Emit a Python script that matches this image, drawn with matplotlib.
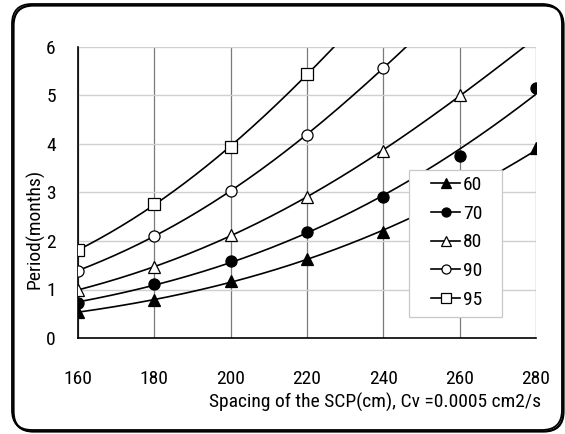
import numpy as np
import matplotlib
matplotlib.use("Agg")
import matplotlib.pyplot as plt
from matplotlib.patches import FancyBboxPatch, Rectangle

plt.rcParams['font.family'] = ['Roboto Condensed', 'Liberation Sans', 'DejaVu Sans']

spacing = [160, 180, 200, 220, 240, 260, 280]
s60 = [0.53, 0.79, 1.17, 1.63, 2.19, 2.95, 3.91]
s70 = [0.73, 1.11, 1.58, 2.18, 2.91, 3.76, 5.16]
s80 = [0.99, 1.47, 2.12, 2.91, 3.85, 5.01]
s90 = [1.39, 2.10, 3.04, 4.19, 5.57]
s95 = [1.81, 2.76, 3.94, 5.44]
labels = ['60', '70', '80', '90', '95']
series = [s60, s70, s80, s90, s95]
markers = ['^', 'o', '^', 'o', 's']
filled = [True, True, False, False, False]
xticks = [160, 180, 200, 220, 240, 260, 280]
yticks = [0, 1, 2, 3, 4, 5, 6]

W, H = 565, 434
fig = plt.figure(figsize=(W/100, H/100), dpi=100)
ax = fig.add_axes([78/W, 1-338/H, (536-78)/W, (338-47)/H])

def ax_xy(px, py):
    return ((px-78)/(536-78), (338-py)/(338-47))

xs = np.linspace(160, 280, 300)
for vals, lab, mk, fl in zip(series, labels, markers, filled):
    x = np.array(spacing[:len(vals)], float)
    y = np.array(vals)
    coef = np.polyfit(x, np.log(y), 2)
    ys = np.exp(np.polyval(coef, xs))
    ax.plot(xs, ys, color='black', lw=1.2, zorder=3)
    ax.plot(x, y, ls='none', marker=mk, ms=8.5 if mk == 's' else 8,
            mfc='black' if fl else 'white', mec='black', mew=0.9, zorder=4)
    ax.plot([], [], color='black', lw=1.2, marker=mk, ms=6.5,
            mfc='black' if fl else 'white', mec='black', mew=0.9, label=lab)

ax.set_xlim(160, 280)
ax.set_ylim(0, 6)
ax.set_xticks(xticks)
ax.set_yticks(yticks)
ax.tick_params(axis='x', length=0, pad=23, labelsize=14)
ax.tick_params(axis='y', length=0, pad=16, labelsize=14)
ax.grid(axis='x', color='#7a7a7a', lw=0.9)
ax.grid(axis='y', color='#cfcfcf', lw=1.0)
ax.set_axisbelow(True)
for s in ['top', 'right']:
    ax.spines[s].set_visible(False)
ax.spines['left'].set_linewidth(1.2)
ax.spines['bottom'].set_linewidth(1.2)

# legend frame
x0, y1 = ax_xy(409, 170)
x1, y0 = ax_xy(502, 317)
ax.add_patch(Rectangle((x0, y0), x1-x0, y1-y0, transform=ax.transAxes,
                       facecolor='white', edgecolor='#c8c8c8', lw=0.9,
                       zorder=5, clip_on=False))
lx, ly = ax_xy(431, 176)
leg = ax.legend(loc='upper left', bbox_to_anchor=(lx, ly),
                frameon=False, fontsize=14, handlelength=1.5,
                handletextpad=0.15, labelspacing=0.55, borderpad=0,
                borderaxespad=0)
leg.set_zorder(6)

fig.text(541/W, 1-402/H, 'Spacing of the SCP(cm), Cv =0.0005 cm2/s',
         ha='right', va='center', fontsize=14)
fig.text(35/W, 1-229/H, 'Period(months)', rotation=90,
         ha='center', va='center', fontsize=14)

# rounded outer border with shadow on bottom/right
for (dx, dy), lw in [((1.5, -1.5), 1.6), ((0, 0), 1.3)]:
    box = FancyBboxPatch(((12+dx)/100, (4+dy)/100),
                         (562-12)/100, (432-6)/100,
                         boxstyle='round,pad=0,rounding_size=0.2',
                         transform=fig.dpi_scale_trans, fill=False,
                         edgecolor='black', lw=lw, zorder=0)
    fig.patches.append(box)

fig.savefig('out.png', dpi=100)
